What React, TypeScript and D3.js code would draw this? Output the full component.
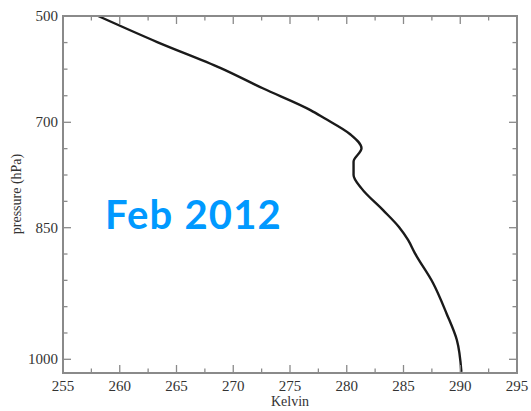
import React from "react";
import * as d3 from "d3";

const temperatureK = [258.1, 263.3, 268.9, 272.6, 276.8, 278.0, 280.3, 281.3, 280.6, 280.6, 281.3, 283.2, 284.6, 285.4, 286.0, 287.6, 288.8, 289.7, 290.1];
const pressureHPa = [500, 549, 598, 636, 677, 692, 717, 737, 756, 775, 794, 825, 849, 864, 879, 913, 948, 978, 1014];

const xTicksMajor = [255, 260, 265, 270, 275, 280, 285, 290, 295];
const yTicksMajor = [500, 700, 850, 1000];
const yTicksMinor = [550, 600, 650, 737.5, 775, 812.5, 880, 910, 940, 970];

const W = 531, H = 411;
const left = 63, right = 517, top = 16, bottom = 373;

export default function App() {
  const x = d3.scaleLinear().domain([255, 295]).range([left, right]);
  const y = d3.scaleLinear().domain([500, 700, 850, 1000, 1015.3]).range([top, 122.3, 227.7, 359.3, bottom]);
  const xMinor = d3.range(257.5, 295, 5);
  const pts: [number, number][] = temperatureK.map((t, i) => [t, pressureHPa[i]]);
  const line = d3.line<[number, number]>().x(d => x(d[0])).y(d => y(d[1])).curve(d3.curveMonotoneY);
  const axisColor = "#8a8a8a";
  const tickStyle = { fontFamily: "'Liberation Serif', 'DejaVu Serif', serif" };
  return (
    <svg width={W} height={H} style={{ position: "absolute", left: 0, top: 0, background: "#fff" }}>
      <rect x={0} y={0} width={W} height={H} fill="#fff" />
      <path d={line(pts) || ""} fill="none" stroke="#1a1a1a" strokeWidth={2.4} strokeLinejoin="round" />
      {xTicksMajor.map(v => (
        <g key={"xm" + v}>
          <line x1={x(v)} x2={x(v)} y1={bottom} y2={bottom - 8} stroke={axisColor} strokeWidth={1.3} />
          <line x1={x(v)} x2={x(v)} y1={top} y2={top + 8} stroke={axisColor} strokeWidth={1.3} />
          <text x={x(v)} y={391} textAnchor="middle" style={tickStyle} fontSize={15} fill="#333">{v}</text>
        </g>
      ))}
      {xMinor.map(v => (
        <g key={"xn" + v}>
          <line x1={x(v)} x2={x(v)} y1={bottom} y2={bottom - 4.5} stroke={axisColor} strokeWidth={1.3} />
          <line x1={x(v)} x2={x(v)} y1={top} y2={top + 4.5} stroke={axisColor} strokeWidth={1.3} />
        </g>
      ))}
      {yTicksMajor.map(v => (
        <g key={"ym" + v}>
          <line x1={left} x2={left + 8} y1={y(v)} y2={y(v)} stroke={axisColor} strokeWidth={1.3} />
          <line x1={right} x2={right - 8} y1={y(v)} y2={y(v)} stroke={axisColor} strokeWidth={1.3} />
          <text x={58} y={y(v) + 5} textAnchor="end" style={tickStyle} fontSize={15} fill="#333">{v}</text>
        </g>
      ))}
      {yTicksMinor.map(v => (
        <g key={"yn" + v}>
          <line x1={left} x2={left + 4.5} y1={y(v)} y2={y(v)} stroke={axisColor} strokeWidth={1.3} />
          <line x1={right} x2={right - 4.5} y1={y(v)} y2={y(v)} stroke={axisColor} strokeWidth={1.3} />
        </g>
      ))}
      <rect x={left} y={top} width={right - left} height={bottom - top} fill="none" stroke={axisColor} strokeWidth={2} />
      <text x={290} y={406} textAnchor="middle" style={tickStyle} fontSize={14} fill="#333">Kelvin</text>
      <text transform="translate(21,194) rotate(-90)" textAnchor="middle" style={tickStyle} fontSize={14} fill="#333">pressure (hPa)</text>
      <text x={105} y={229} style={{ fontFamily: "Lato, 'Open Sans', sans-serif", letterSpacing: "1.2px" }} fontWeight="bold" fontSize={40} fill="#0099ff">Feb 2012</text>
    </svg>
  );
}
